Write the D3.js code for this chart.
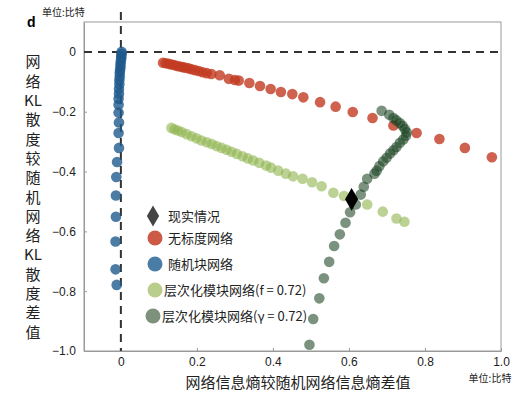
<!DOCTYPE html>
<html>
<head>
  <meta charset="utf-8">
  <script src="https://d3js.org/d3.v7.min.js"></script>
  <style>
    body { margin: 0; background: #fff; }
    svg { display: block; font-family: 'Liberation Sans', 'Noto Sans CJK SC', sans-serif; }
    .cjk { font-family: 'Noto Sans CJK SC', sans-serif; }
  </style>
</head>
<body>
<svg width="527" height="396"></svg>
<script>
  // data: [entropy diff, KL diff]
  var randomBlock = [[0.002,0.0],[0.002,-0.006],[0.001,-0.013],[0.001,-0.021],[0.0,-0.03],[-0.001,-0.04],
    [-0.001,-0.05],[-0.002,-0.06],[-0.003,-0.07],[-0.003,-0.082],[-0.004,-0.095],[-0.004,-0.108],
    [-0.005,-0.124],[-0.005,-0.14],[-0.006,-0.157],[-0.006,-0.177],[-0.006,-0.203],[-0.005,-0.236],
    [-0.006,-0.271],[-0.005,-0.321],[-0.01,-0.368],[-0.012,-0.418],[-0.013,-0.48],[-0.013,-0.551],
    [-0.014,-0.634],[-0.014,-0.727],[-0.011,-0.779]];
  var scaleFree = [[0.111,-0.036],[0.118,-0.038],[0.126,-0.04],[0.133,-0.042],[0.14,-0.044],[0.148,-0.047],
    [0.155,-0.049],[0.163,-0.051],[0.17,-0.053],[0.178,-0.055],[0.186,-0.058],[0.195,-0.061],
    [0.205,-0.064],[0.215,-0.068],[0.226,-0.071],[0.238,-0.074],[0.26,-0.078],[0.284,-0.09],
    [0.3,-0.094],[0.31,-0.096],[0.338,-0.104],[0.366,-0.114],[0.394,-0.124],[0.421,-0.134],
    [0.451,-0.141],[0.48,-0.152],[0.524,-0.168],[0.565,-0.183],[0.61,-0.201],[0.662,-0.221],
    [0.717,-0.246],[0.778,-0.271],[0.838,-0.291],[0.905,-0.321],[0.976,-0.352]];
  var hierF = [[0.133,-0.254],[0.141,-0.259],[0.15,-0.263],[0.16,-0.268],[0.173,-0.275],[0.186,-0.282],
    [0.199,-0.289],[0.212,-0.296],[0.226,-0.302],[0.239,-0.308],[0.252,-0.315],[0.265,-0.321],
    [0.278,-0.327],[0.291,-0.334],[0.305,-0.341],[0.32,-0.349],[0.334,-0.356],[0.348,-0.363],
    [0.364,-0.371],[0.382,-0.38],[0.395,-0.387],[0.414,-0.397],[0.434,-0.407],[0.453,-0.416],
    [0.478,-0.424],[0.503,-0.436],[0.528,-0.449],[0.559,-0.471],[0.587,-0.482],[0.648,-0.51],
    [0.689,-0.534],[0.725,-0.557],[0.746,-0.568]];
  var hierG = [[0.496,-0.979],[0.506,-0.893],[0.522,-0.824],[0.534,-0.757],[0.548,-0.702],[0.561,-0.649],
    [0.576,-0.61],[0.591,-0.571],[0.603,-0.536],[0.618,-0.51],[0.631,-0.477],[0.639,-0.451],
    [0.648,-0.424],[0.667,-0.407],[0.673,-0.397],[0.68,-0.382],[0.69,-0.366],[0.699,-0.354],
    [0.708,-0.34],[0.717,-0.329],[0.725,-0.318],[0.734,-0.304],[0.743,-0.293],[0.75,-0.28],
    [0.752,-0.269],[0.747,-0.258],[0.741,-0.247],[0.734,-0.238],[0.725,-0.229],[0.717,-0.221],
    [0.706,-0.21],[0.686,-0.197]];
  var reality = [[0.607,-0.493]];

  var xTicks = [0, 0.2, 0.4, 0.6, 0.8, 1.0];
  var yTicks = [0, -0.2, -0.4, -0.6, -0.8, -1.0];
  var yLabelLines = ['网','络','KL','散','度','较','随','机','网','络','KL','散','度','差','值'];
  var legendNames = ['现实情况','无标度网络','随机块网络','层次化模块网络(f = 0.72)','层次化模块网络(γ = 0.72)'];

  var svg = d3.select("svg");
  var x = d3.scaleLinear().domain([-0.097, 1.0]).range([84, 501]);
  var y = d3.scaleLinear().domain([0.1, -1.0]).range([22, 351]);

  function fmt(d) { return d === 0 ? "0" : d3.format(".1f")(d); }

  // frame
  svg.append("rect").attr("x", 84).attr("y", 22).attr("width", 417).attr("height", 329)
    .attr("fill", "none").attr("stroke", "#9a9a9a").attr("stroke-width", 1);

  var xAxis = svg.append("g").attr("transform", "translate(0,351)")
    .call(d3.axisBottom(x).tickValues(xTicks).tickFormat(fmt).tickSizeInner(-3).tickSizeOuter(0).tickPadding(6));
  var yAxis = svg.append("g").attr("transform", "translate(84,0)")
    .call(d3.axisLeft(y).tickValues(yTicks).tickFormat(fmt).tickSizeInner(-3).tickSizeOuter(0).tickPadding(7));
  [xAxis, yAxis].forEach(function (a) {
    a.select(".domain").attr("stroke", "#9a9a9a");
    a.selectAll(".tick line").attr("stroke", "#9a9a9a");
    a.selectAll("text").attr("font-size", 12).attr("fill", "#222")
      .attr("font-family", "'Liberation Sans', sans-serif");
  });
  yAxis.selectAll("text").attr("dx", "-0.1em");

  // dashed zero lines
  svg.append("line").attr("x1", 84).attr("x2", 501).attr("y1", y(0)).attr("y2", y(0))
    .attr("stroke", "#333").attr("stroke-width", 2).attr("stroke-dasharray", "8,6");
  svg.append("line").attr("x1", x(0)).attr("x2", x(0)).attr("y1", 12).attr("y2", 351)
    .attr("stroke", "#333").attr("stroke-width", 2).attr("stroke-dasharray", "8,6");

  function dots(data, fill, op) {
    svg.append("g").selectAll("circle").data(data).enter().append("circle")
      .attr("cx", function (d) { return x(d[0]); })
      .attr("cy", function (d) { return y(d[1]); })
      .attr("r", 5.3).attr("fill", fill).attr("fill-opacity", op);
  }
  dots(randomBlock, "#1f5a8c", 0.8);
  dots(scaleFree, "#c23b22", 0.8);
  dots(hierF, "#8fb44e", 0.6);
  dots(hierG, "#1a4420", 0.58);

  var diamond = d3.symbol().type(d3.symbolDiamond).size(150);
  svg.selectAll(".real").data(reality).enter().append("path")
    .attr("transform", function (d) { return "translate(" + x(d[0]) + "," + y(d[1]) + ")"; })
    .attr("d", diamond).attr("fill", "#000");

  // legend
  var legendColors = ["#444", "#cd5a46", "#4a7da5", "#b9cd8c", "#7d917d"];
  var legendY = [216, 238, 264, 290, 316];
  var legendX = [153, 155, 155, 155, 153];
  var textX = [168, 168, 168, 164, 162];
  legendNames.forEach(function (name, i) {
    if (i === 0) {
      svg.append("path").attr("transform", "translate(" + legendX[i] + "," + legendY[i] + ")")
        .attr("d", d3.symbol().type(d3.symbolDiamond).size(130)).attr("fill", legendColors[i]);
    } else {
      svg.append("circle").attr("cx", legendX[i]).attr("cy", legendY[i]).attr("r", 7.5)
        .attr("fill", legendColors[i]);
    }
    svg.append("text").attr("class", "cjk").attr("x", textX[i]).attr("y", legendY[i])
      .attr("dy", "0.36em").attr("font-size", 13).attr("fill", "#222").text(name);
  });

  // y title, stacked
  svg.append("g").selectAll("text").data(yLabelLines).enter().append("text")
    .attr("class", "cjk").attr("x", 33).attr("y", function (d, i) { return 62 + i * 19.3; })
    .attr("dy", "0.36em").attr("text-anchor", "middle").attr("font-size", 15).attr("fill", "#222")
    .text(function (d) { return d; });

  // x title
  svg.append("text").attr("class", "cjk").attr("x", 298).attr("y", 383).attr("dy", "0.36em")
    .attr("text-anchor", "middle").attr("font-size", 15).attr("fill", "#222")
    .text("网络信息熵较随机网络信息熵差值");

  svg.append("text").attr("class", "cjk").attr("x", 490).attr("y", 378).attr("dy", "0.36em")
    .attr("text-anchor", "middle").attr("font-size", 10).attr("fill", "#222").text("单位:比特");
  svg.append("text").attr("class", "cjk").attr("x", 42).attr("y", 12).attr("dy", "0.36em")
    .attr("font-size", 10).attr("fill", "#222").text("单位:比特");
  svg.append("text").attr("x", 27).attr("y", 22).attr("dy", "0.36em")
    .attr("font-size", 14).attr("font-weight", "bold").attr("fill", "#000").text("d");
</script>
</body>
</html>
